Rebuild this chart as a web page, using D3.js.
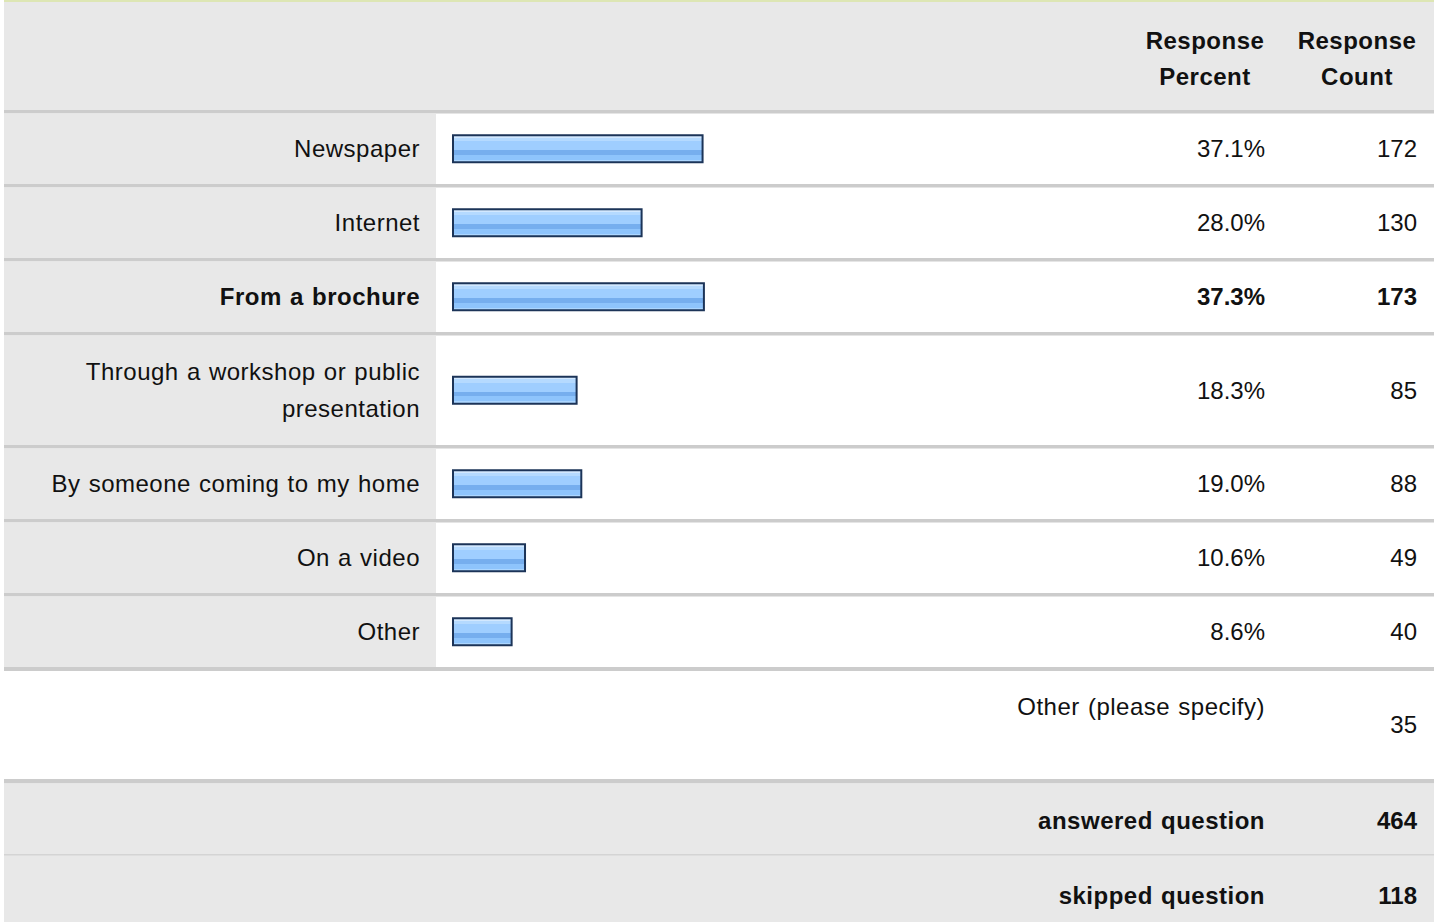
<!DOCTYPE html>
<html>
<head>
<meta charset="utf-8">
<script src="https://cdn.jsdelivr.net/npm/d3@7"></script>
<style>
  body { margin: 0; background: #fff; }
  svg text { font-family: Arial, "Liberation Sans", Helvetica, sans-serif; fill: #111; }
  svg text.lbl { letter-spacing: 0.5px; word-spacing: 1px; }
</style>
</head>
<body>
<div id="chart"></div>
<script>
// survey data
const answers = ["Newspaper", "Internet", "From a brochure", "Through a workshop or public presentation",
                 "By someone coming to my home", "On a video", "Other"];
const percents = [37.1, 28.0, 37.3, 18.3, 19.0, 10.6, 8.6];
const counts = [172, 130, 173, 85, 88, 49, 40];
const headerPercent = ["Response", "Percent"];
const headerCount = ["Response", "Count"];
const otherLabel = "Other (please specify)";
const otherCount = 35;
const totalsLabels = ["answered question", "skipped question"];
const totalsValues = [464, 118];

let w = 1440;
let h = 922;
let left = 4, right = 1434;
let labelColRight = 436;
let pctX = 1265, cntX = 1417;
let sep = 3.5;

let svg = d3.select("#chart")
    .append("svg")
    .attr("width", w)
    .attr("height", h)

// gradient for the bars
let grad = svg.append("defs").append("linearGradient")
    .attr("id", "barGrad")
    .attr("x1", 0).attr("x2", 0).attr("y1", 0).attr("y2", 1);
[[0, "#d2e8ff"], [0.1, "#d2e8ff"], [0.1, "#b5daff"], [0.22, "#b5daff"], [0.22, "#9fceff"],
 [0.55, "#9fceff"], [0.55, "#76aeee"], [0.72, "#76aeee"], [0.72, "#8ec4fc"], [0.9, "#8ec4fc"],
 [0.9, "#acd6ff"], [1, "#acd6ff"]].forEach(s => {
    grad.append("stop").attr("offset", s[0]).attr("stop-color", s[1]);
});

let xScale = d3.scaleLinear().domain([0, 100]).range([0, 670]);

// top rule
svg.append("rect").attr("x", left).attr("y", 0).attr("width", right - left).attr("height", 2).attr("fill", "#dde6b4");

// header
svg.append("rect").attr("x", left).attr("y", 2).attr("width", right - left).attr("height", 108).attr("fill", "#e8e8e8");
[[headerPercent, 1205], [headerCount, 1357]].forEach(([lines, cx]) => {
    lines.forEach((t, i) => {
        svg.append("text")
            .attr("class", "lbl")
            .attr("x", cx).attr("y", 41 + i * 36).attr("dy", "0.35em")
            .attr("text-anchor", "middle")
            .style("font-size", "24px").style("font-weight", "bold")
            .text(t);
    });
});

// wrap labels into lines
let measure = svg.append("text").attr("class", "lbl").style("font-size", "24px");
function wrap(label, maxW) {
    let words = label.split(" ");
    let lines = [];
    let cur = "";
    words.forEach(wd => {
        let test = cur ? cur + " " + wd : wd;
        measure.text(test);
        if (measure.node().getComputedTextLength() > maxW && cur) {
            lines.push(cur);
            cur = wd;
        } else {
            cur = test;
        }
    });
    lines.push(cur);
    return lines;
}

let maxPct = d3.max(percents);
let y = 110;
answers.forEach((label, i) => {
    let lines = wrap(label, 400);
    let rowH = lines.length > 1 ? 113 : 74;
    let bold = percents[i] === maxPct ? "bold" : "normal";
    let cy = y + sep + (rowH - sep) / 2;

    svg.append("rect").attr("x", left).attr("y", y).attr("width", right - left).attr("height", sep).attr("fill", "#cccccc");
    svg.append("rect").attr("x", left).attr("y", y + sep).attr("width", labelColRight - left).attr("height", rowH - sep).attr("fill", "#e8e8e8");

    lines.forEach((t, j) => {
        svg.append("text")
            .attr("class", "lbl")
            .attr("x", 420).attr("y", cy + (j - (lines.length - 1) / 2) * 37).attr("dy", "0.35em")
            .attr("text-anchor", "end")
            .style("font-size", "24px").style("font-weight", bold)
            .text(t);
    });

    svg.append("rect")
        .attr("x", 453).attr("y", cy - 13.5)
        .attr("width", xScale(percents[i]) + 1).attr("height", 27)
        .attr("fill", "url(#barGrad)")
        .attr("stroke", "#1c3458").attr("stroke-width", 2);

    svg.append("text")
        .attr("x", pctX).attr("y", cy).attr("dy", "0.35em")
        .attr("text-anchor", "end")
        .style("font-size", "24px").style("font-weight", bold)
        .text(percents[i].toFixed(1) + "%");
    svg.append("text")
        .attr("x", cntX).attr("y", cy).attr("dy", "0.35em")
        .attr("text-anchor", "end")
        .style("font-size", "24px").style("font-weight", bold)
        .text(counts[i]);

    y += rowH;
});

// other (please specify)
svg.append("rect").attr("x", left).attr("y", y).attr("width", right - left).attr("height", 4).attr("fill", "#cccccc");
svg.append("text")
    .attr("class", "lbl")
    .attr("x", pctX).attr("y", y + 40).attr("dy", "0.35em")
    .attr("text-anchor", "end").style("font-size", "24px")
    .text(otherLabel);
svg.append("text")
    .attr("x", cntX).attr("y", y + 58).attr("dy", "0.35em")
    .attr("text-anchor", "end").style("font-size", "24px")
    .text(otherCount);
y += 112;

// totals
svg.append("rect").attr("x", left).attr("y", y).attr("width", right - left).attr("height", 4.5).attr("fill", "#cccccc");
svg.append("rect").attr("x", left).attr("y", y + 4.5).attr("width", right - left).attr("height", h - y).attr("fill", "#e8e8e8");
totalsLabels.forEach((t, i) => {
    let ty = y + i * 75;
    if (i > 0) {
        svg.append("rect").attr("x", left).attr("y", ty).attr("width", right - left).attr("height", 1.5).attr("fill", "#d4d4d4");
    }
    svg.append("text")
        .attr("class", "lbl")
        .attr("x", pctX).attr("y", ty + 42).attr("dy", "0.35em")
        .attr("text-anchor", "end")
        .style("font-size", "24px").style("font-weight", "bold")
        .text(t);
    svg.append("text")
        .attr("x", cntX).attr("y", ty + 42).attr("dy", "0.35em")
        .attr("text-anchor", "end")
        .style("font-size", "24px").style("font-weight", "bold")
        .text(totalsValues[i]);
});

measure.remove();
</script>
</body>
</html>
